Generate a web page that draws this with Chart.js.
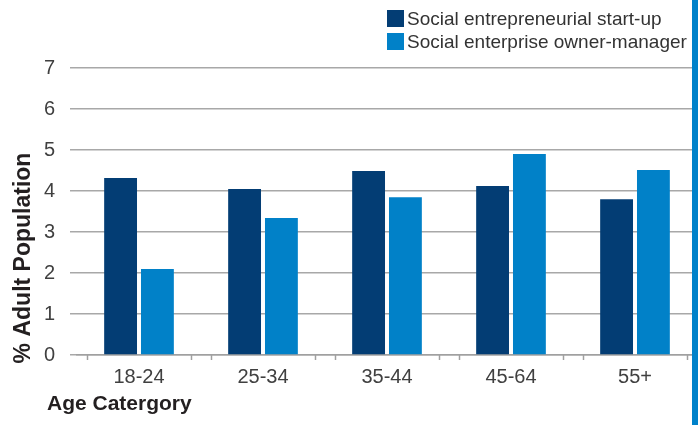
<!DOCTYPE html>
<html>
<head>
<meta charset="utf-8">
<script src="https://cdn.jsdelivr.net/npm/chart.js@4.4.1/dist/chart.umd.min.js"></script>
<style>
  html, body { margin: 0; padding: 0; background: #fff; }
  #wrap { position: relative; width: 698px; height: 425px; overflow: hidden; }
  #grafico { position: absolute; left: 0; top: 0; }
  #faixa { position: absolute; left: 692px; top: 0; width: 6px; height: 425px; background: #0082ca; }
  #legenda { position: absolute; left: 387px; top: 7px; white-space: nowrap; font-family: "Liberation Sans", Arial, sans-serif; font-size: 19px; color: #333; }
  #legenda .item { display: flex; align-items: center; height: 23px; }
  #legenda .caixa { width: 17px; height: 17px; margin-right: 3px; flex: none; }
</style>
</head>
<body>
<div id="wrap">
  <canvas id="grafico" width="698" height="425"></canvas>
  <div id="legenda"></div>
  <div id="faixa"></div>
</div>
<script>
const categorias = ["18-24", "25-34", "35-44", "45-64", "55+"];
const startUp = [4.32, 4.05, 4.49, 4.12, 3.80];
const ownerManager = [2.10, 3.34, 3.85, 4.90, 4.51];
const series = ["Social entrepreneurial start-up", "Social enterprise owner-manager"];
const cores = ["#033d74", "#0181c8"];

const tituloY = "% Adult Population";
const tituloX = "Age Catergory";

// legenda em html, duas linhas no canto superior direito
series.forEach(function (nome, i) {
  let item = document.createElement("div");
  item.className = "item";
  item.innerHTML = '<span class="caixa" style="background:' + cores[i] + '"></span><span>' + nome + "</span>";
  document.getElementById("legenda").appendChild(item);
});

// marcas curtas no eixo x, nos limites de cada grupo
const marcasX = {
  id: "marcasX",
  afterDraw(chart) {
    const x = chart.scales.x;
    const ctx = chart.ctx;
    const larg = x.getPixelForValue(1) - x.getPixelForValue(0);
    ctx.save();
    ctx.strokeStyle = "#a0a0a0";
    ctx.lineWidth = 1.5;
    for (let i = 0; i < categorias.length; i++) {
      const c = x.getPixelForValue(i);
      [c - larg * 0.42, c + larg * 0.42].forEach(function (p) {
        ctx.beginPath();
        ctx.moveTo(Math.round(p) + 0.5, x.top);
        ctx.lineTo(Math.round(p) + 0.5, x.top + 5);
        ctx.stroke();
      });
    }
    ctx.restore();
  },
};

// titulos dos eixos
const titulos = {
  id: "titulos",
  afterDraw(chart) {
    const ctx = chart.ctx;
    ctx.save();
    ctx.fillStyle = "#231f20";
    ctx.font = "bold 23px 'Liberation Sans', Arial, sans-serif";
    ctx.textAlign = "center";
    ctx.textBaseline = "middle";
    ctx.translate(24, 258);
    ctx.rotate(-Math.PI / 2);
    ctx.fillText(tituloY, 0, 0);
    ctx.restore();

    ctx.save();
    ctx.fillStyle = "#231f20";
    ctx.font = "bold 21px 'Liberation Sans', Arial, sans-serif";
    ctx.textAlign = "left";
    ctx.textBaseline = "alphabetic";
    ctx.fillText(tituloX, 47, 410);
    ctx.restore();
  },
};

var ctx = document.getElementById("grafico").getContext("2d");
window.grafico = new Chart(ctx, {
  type: "bar",
  data: {
    labels: categorias,
    datasets: [
      { label: series[0], data: startUp, backgroundColor: cores[0] },
      { label: series[1], data: ownerManager, backgroundColor: cores[1] },
    ],
  },
  options: {
    responsive: false,
    animation: false,
    layout: { padding: { top: 68, right: 1, left: 0, bottom: 0 } },
    datasets: { bar: { categoryPercentage: 0.594, barPercentage: 0.892 } },
    plugins: { legend: { display: false }, tooltip: { enabled: false } },
    scales: {
      x: {
        grid: { display: false, drawTicks: false },
        border: { display: true, color: "#a0a0a0", width: 1.5 },
        ticks: { color: "#404040", padding: 10, font: { family: "'Liberation Sans', Arial, sans-serif", size: 20 } },
        afterFit: function (s) { s.height = 70; },
      },
      y: {
        min: 0,
        max: 7,
        ticks: { stepSize: 1, color: "#404040", padding: 15, font: { family: "'Liberation Sans', Arial, sans-serif", size: 20 } },
        grid: { color: "#a8a8a8", lineWidth: 1.5, tickLength: 7 },
        border: { display: false },
        afterFit: function (s) { s.width = 77; },
      },
    },
  },
  plugins: [marcasX, titulos],
});
</script>
</body>
</html>
